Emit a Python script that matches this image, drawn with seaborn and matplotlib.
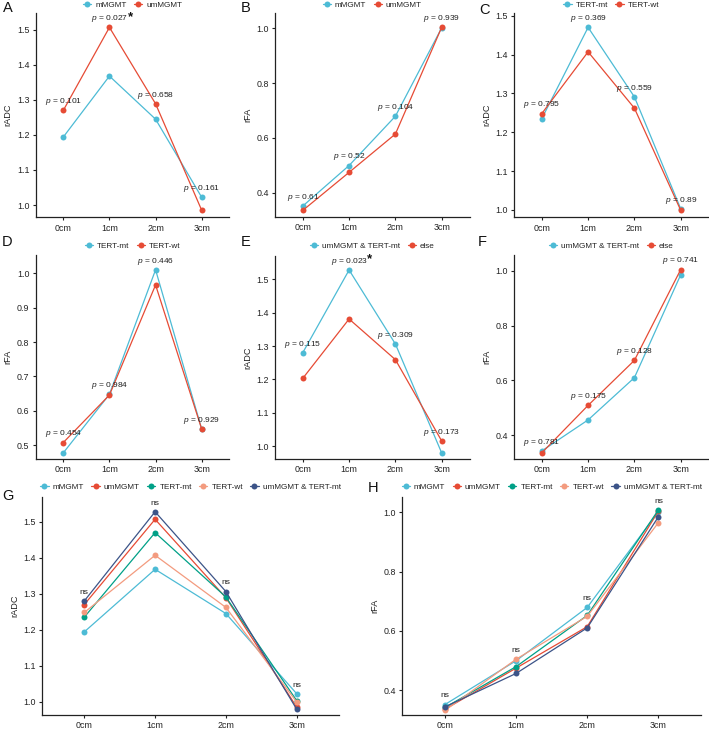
import numpy as np
import pandas as pd
import matplotlib
matplotlib.use("Agg")
import matplotlib.pyplot as plt
from matplotlib.lines import Line2D
import seaborn as sns

# ---------------- data ----------------
dists = ["0cm", "1cm", "2cm", "3cm"]

# rADC
adc_mMGMT = [1.194, 1.368, 1.245, 1.022]
adc_umMGMT = [1.270, 1.507, 1.289, 0.985]
adc_TERTmt = [1.235, 1.470, 1.291, 1.003]
adc_TERTwt = [1.248, 1.407, 1.262, 0.999]
adc_umTERT = [1.280, 1.528, 1.306, 0.979]
adc_else = [1.203, 1.381, 1.259, 1.015]

# rFA
fa_mMGMT = [0.351, 0.499, 0.679, 1.002]
fa_umMGMT = [0.335, 0.474, 0.614, 1.004]
fa_TERTmt_D = [0.478, 0.648, 1.010, 0.547]
fa_TERTwt_D = [0.508, 0.646, 0.966, 0.547]
fa_TERTmt = [0.341, 0.479, 0.652, 1.008]
fa_TERTwt = [0.331, 0.504, 0.649, 0.965]
fa_umTERT = [0.343, 0.456, 0.610, 0.985]
fa_else = [0.336, 0.509, 0.673, 1.004]

p_A = ["0.101", "0.027*", "0.658", "0.161"]
p_B = ["0.61", "0.52", "0.104", "0.939"]
p_C = ["0.795", "0.369", "0.559", "0.89"]
p_D = ["0.454", "0.984", "0.446", "0.929"]
p_E = ["0.115", "0.023*", "0.309", "0.173"]
p_F = ["0.781", "0.175", "0.128", "0.741"]

C_LB = "#4DBBD5"
C_RD = "#E64B35"
C_TL = "#00A087"
C_SA = "#F39B7F"
C_NV = "#3C5488"

# ---------------- style ----------------
sns.set_style("ticks")
plt.rcParams["font.family"] = ["Liberation Sans", "DejaVu Sans"]
plt.rcParams["mathtext.fontset"] = "custom"
plt.rcParams["mathtext.it"] = "Liberation Sans:italic"
plt.rcParams["mathtext.rm"] = "Liberation Sans"
plt.rcParams["mathtext.bf"] = "Liberation Sans:bold"

W, H = 709, 732
fig = plt.figure(figsize=(W / 100, H / 100), dpi=100)
renderer = fig.canvas.get_renderer()

TXT = "#222222"
star_jobs = []


def rect(l, t, r, b):
    return [l / W, 1 - b / H, (r - l) / W, (b - t) / H]


def panel(box, ylim, yticks, ylabel, names, series, colors, pvals=None, ns=False,
          letter=None, letter_xy=None, legend_y=None):
    ax = fig.add_axes(rect(*box))
    rows = []
    for n, s in zip(names, series):
        for d, v in zip(dists, s):
            rows.append((n, d, v))
    df = pd.DataFrame(rows, columns=["group", "dist", "val"])
    sns.lineplot(data=df, x="dist", y="val", hue="group", hue_order=names,
                 palette=colors, marker="o", markersize=4.3, markeredgewidth=0,
                 linewidth=0.9, legend=False, ax=ax, errorbar=None, sort=False)
    ax.set_xlim(-0.6, 3.6)
    ax.set_ylim(*ylim)
    ax.set_yticks(yticks)
    ax.set_yticklabels([f"{t:.1f}" for t in yticks])
    ax.set_xlabel("")
    ax.set_ylabel(ylabel, fontsize=6.6, color=TXT, labelpad=3)
    for sp in ["top", "right"]:
        ax.spines[sp].set_visible(False)
    for sp in ["left", "bottom"]:
        ax.spines[sp].set_linewidth(0.9)
        ax.spines[sp].set_color("#222222")
    ax.tick_params(axis="both", labelsize=6.4, colors="#222222", labelcolor=TXT,
                   length=2.5, width=0.8, pad=2)
    maxes = np.max(np.array(series), axis=0)
    for i, m in enumerate(maxes):
        star = False
        if ns:
            lab = "ns"
        else:
            pv = pvals[i]
            if pv.endswith("*"):
                star = True
                pv = pv[:-1]
            lab = r"$\mathit{p}$ = " + pv
        t = ax.annotate(lab, (i, m), xytext=(0, 6.2), textcoords="offset points",
                        ha="center", va="center", fontsize=6.0, color=TXT,
                        annotation_clip=False)
        if star:
            star_jobs.append((ax, t, i, m))
    handles = [Line2D([0], [0], color=c, marker="o", markersize=4.3,
                      markeredgewidth=0, lw=0.9) for c in colors]
    cx = (box[0] + box[2]) / 2
    fig.legend(handles, names, loc="center",
               bbox_to_anchor=(cx / W, 1 - legend_y / H), ncol=len(names),
               frameon=False, fontsize=5.9, handlelength=1.0, handletextpad=0.5,
               columnspacing=0.9, borderpad=0, borderaxespad=0,
               labelcolor=TXT)
    fig.text(letter_xy[0] / W, 1 - letter_xy[1] / H, letter, fontsize=10.5,
             ha="center", va="center", color="#111111")
    return ax


# Row 1
panel((35.6, 13, 229.4, 217.3), (0.965, 1.548), [1.0, 1.1, 1.2, 1.3, 1.4, 1.5], "rADC",
      ["mMGMT", "umMGMT"], [adc_mMGMT, adc_umMGMT], [C_LB, C_RD], pvals=p_A,
      letter="A", letter_xy=(7.5, 8.5), legend_y=5.5)
panel((275, 13, 469.5, 216.7), (0.312, 1.056), [0.4, 0.6, 0.8, 1.0], "rFA",
      ["mMGMT", "umMGMT"], [fa_mMGMT, fa_umMGMT], [C_LB, C_RD], pvals=p_B,
      letter="B", letter_xy=(245.5, 8.5), legend_y=5.5)
panel((514, 13, 708.5, 217.3), (0.981, 1.507), [1.0, 1.1, 1.2, 1.3, 1.4, 1.5], "rADC",
      ["TERT-mt", "TERT-wt"], [adc_TERTmt, adc_TERTwt], [C_LB, C_RD], pvals=p_C,
      letter="C", letter_xy=(484, 9.5), legend_y=5.5)

# Row 2
panel((35.6, 255, 229.4, 458.7), (0.461, 1.053), [0.5, 0.6, 0.7, 0.8, 0.9, 1.0], "rFA",
      ["TERT-mt", "TERT-wt"], [fa_TERTmt_D, fa_TERTwt_D], [C_LB, C_RD], pvals=p_D,
      letter="D", letter_xy=(7.5, 241.5), legend_y=246.5)
panel((275, 256, 469.5, 459), (0.961, 1.570), [1.0, 1.1, 1.2, 1.3, 1.4, 1.5], "rADC",
      ["umMGMT & TERT-mt", "else"], [adc_umTERT, adc_else], [C_LB, C_RD], pvals=p_E,
      letter="E", letter_xy=(245.5, 241.5), legend_y=246.5)
panel((514, 255, 708.5, 459), (0.3136, 1.057), [0.4, 0.6, 0.8, 1.0], "rFA",
      ["umMGMT & TERT-mt", "else"], [fa_umTERT, fa_else], [C_LB, C_RD], pvals=p_F,
      letter="F", letter_xy=(482, 242.5), legend_y=246.5)

# Row 3
names5 = ["mMGMT", "umMGMT", "TERT-mt", "TERT-wt", "umMGMT & TERT-mt"]
cols5 = [C_LB, C_RD, C_TL, C_SA, C_NV]
panel((41.8, 497, 339.2, 715), (0.963, 1.569), [1.0, 1.1, 1.2, 1.3, 1.4, 1.5], "rADC",
      names5, [adc_mMGMT, adc_umMGMT, adc_TERTmt, adc_TERTwt, adc_umTERT], cols5,
      ns=True, letter="G", letter_xy=(7.5, 496), legend_y=486.7)
panel((402.3, 497, 701, 715), (0.3156, 1.052), [0.4, 0.6, 0.8, 1.0], "rFA",
      names5, [fa_mMGMT, fa_umMGMT, fa_TERTmt, fa_TERTwt, fa_umTERT], cols5,
      ns=True, letter="H", letter_xy=(373, 488.5), legend_y=486.7)

# significance stars, placed just after the p-value text
for ax, t, i, m in star_jobs:
    bb = t.get_window_extent(renderer)
    half_w_pt = (bb.width / 2) * 72 / 100
    ax.annotate("*", (i, m), xytext=(half_w_pt + 1.6, 7.6), textcoords="offset points",
                ha="center", va="center", fontsize=9.5, fontweight="bold",
                color="#111111", annotation_clip=False)

fig.savefig("out.png", dpi=100, facecolor="white")
